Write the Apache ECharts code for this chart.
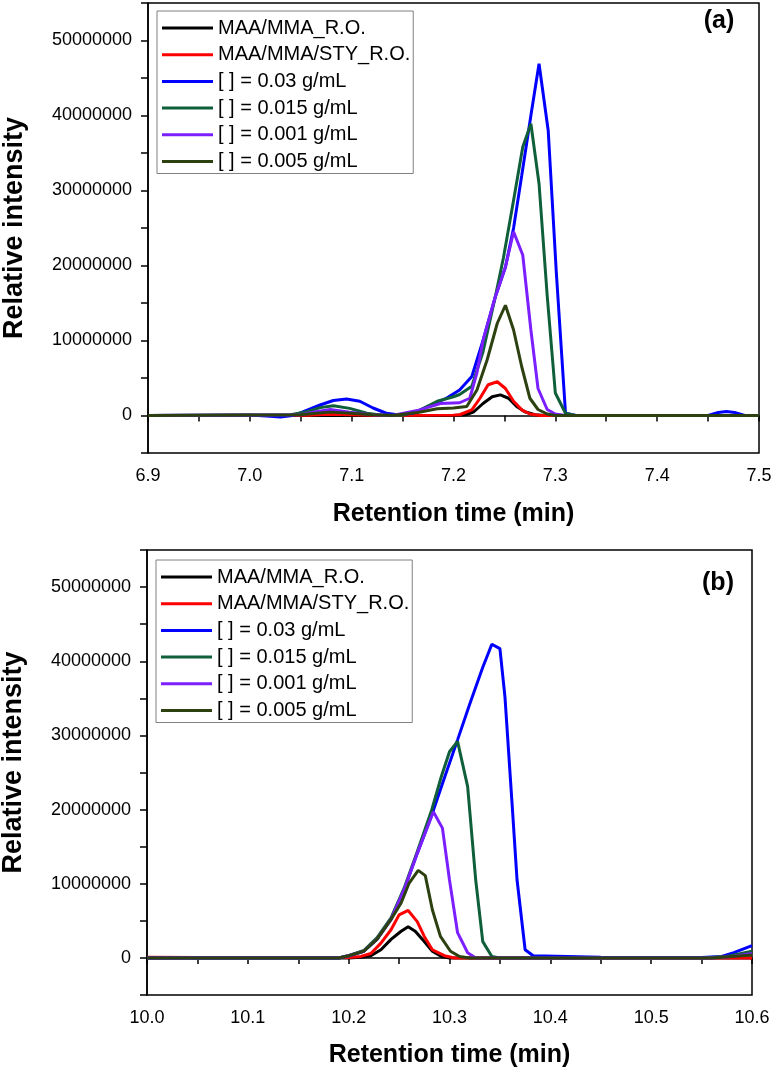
<!DOCTYPE html>
<html>
<head>
<meta charset="utf-8">
<script src="https://cdn.jsdelivr.net/npm/echarts@6/dist/echarts.min.js"></script>
<style>
  html, body { margin: 0; padding: 0; background: #fff; }
  #main { width: 774px; height: 1070px; }
</style>
</head>
<body>
<div id="main"></div>
<script>
// series names (legend order = draw order)
var names = ['MAA/MMA_R.O.', 'MAA/MMA/STY_R.O.', '[ ] = 0.03 g/mL', '[ ] = 0.015 g/mL', '[ ] = 0.001 g/mL', '[ ] = 0.005 g/mL'];
var colors = ['#000000', '#ff0000', '#0000ff', '#0f5f3a', '#7b1fff', '#2d4010'];

// panel (a): [time (min), intensity (millions)]
var aBlack = [[6.9,0],[7.2,0],[7.212,0.1],[7.22,0.5],[7.229,1.6],[7.238,2.5],[7.246,2.75],[7.254,2.3],[7.262,1.2],[7.27,0.5],[7.28,0.1],[7.29,0],[7.5,0]];
var aRed = [[6.9,0],[7.06,0.05],[7.08,0.15],[7.1,0.1],[7.13,0],[7.2,0.05],[7.206,0.1],[7.218,0.76],[7.226,2.3],[7.234,4.1],[7.243,4.5],[7.251,3.6],[7.259,1.9],[7.267,0.76],[7.275,0.2],[7.285,0],[7.5,0]];
var aBlue = [[6.9,0],[7.0,0.05],[7.02,-0.1],[7.03,-0.2],[7.04,-0.05],[7.049,0.3],[7.069,1.4],[7.082,2.0],[7.095,2.2],[7.108,1.9],[7.121,1.0],[7.134,0.3],[7.145,0.1],[7.16,0.3],[7.175,1.2],[7.193,2.3],[7.206,3.4],[7.218,5.2],[7.229,10],[7.241,15.8],[7.251,19.8],[7.259,25],[7.267,32],[7.276,40],[7.284,46.9],[7.293,38],[7.301,19],[7.31,0.3],[7.32,0],[7.45,0],[7.46,0.4],[7.468,0.53],[7.476,0.4],[7.486,0],[7.5,0]];
var aGreen = [[6.9,0],[7.04,0.1],[7.056,0.5],[7.069,1.05],[7.082,1.3],[7.098,0.95],[7.115,0.3],[7.13,0.05],[7.15,0.05],[7.165,0.6],[7.184,1.9],[7.2,2.5],[7.206,2.8],[7.218,3.9],[7.229,8.5],[7.241,15.8],[7.249,21],[7.259,28.7],[7.268,35.8],[7.276,38.9],[7.284,30.9],[7.292,16],[7.3,3],[7.31,0.3],[7.32,0],[7.5,0]];
var aPurple = [[6.9,0],[7.05,0.1],[7.065,0.5],[7.079,0.8],[7.098,0.45],[7.12,0.1],[7.14,0],[7.167,0.75],[7.187,1.6],[7.206,1.7],[7.216,2.3],[7.223,5.7],[7.229,10],[7.241,15.8],[7.251,19.8],[7.259,24.5],[7.268,21.4],[7.276,11.4],[7.283,3.6],[7.292,0.8],[7.3,0.2],[7.31,0],[7.5,0]];
var aOlive = [[6.9,0],[7.05,0.1],[7.065,0.3],[7.079,0.45],[7.1,0.3],[7.12,0.1],[7.14,0],[7.165,0.4],[7.184,0.9],[7.2,1.0],[7.213,1.2],[7.223,3.4],[7.233,7.4],[7.243,12.3],[7.251,14.7],[7.259,11.4],[7.267,6.5],[7.275,2.3],[7.283,0.8],[7.292,0.2],[7.3,0],[7.5,0]];

// panel (b)
var bBlack = [[10,0],[10.2,0],[10.212,0.1],[10.222,0.3],[10.232,1.1],[10.242,2.5],[10.252,3.6],[10.259,4.2],[10.266,3.6],[10.275,2.2],[10.283,0.9],[10.292,0.2],[10.3,0],[10.6,0]];
var bRed = [[10,0.1],[10.05,0.05],[10.2,0.05],[10.212,0.2],[10.222,0.6],[10.232,2.0],[10.242,3.8],[10.25,5.8],[10.259,6.4],[10.268,4.9],[10.275,2.9],[10.283,1.1],[10.295,0.3],[10.305,0],[10.6,0]];
var bBlue = [[10,0],[10.19,0],[10.2,0.3],[10.215,0.9],[10.228,2.5],[10.242,5.2],[10.255,9.2],[10.268,14.1],[10.282,19.1],[10.295,24.3],[10.308,29.4],[10.32,34.2],[10.333,39.2],[10.342,42.3],[10.35,41.7],[10.355,35.2],[10.362,20.9],[10.367,10.5],[10.375,1.1],[10.383,0.3],[10.45,0.1],[10.55,0.05],[10.57,0.2],[10.582,0.7],[10.6,1.65]];
var bGreen = [[10,0],[10.19,0],[10.2,0.3],[10.215,1.0],[10.228,2.7],[10.242,5.4],[10.255,9.4],[10.268,14.3],[10.282,19.8],[10.292,24.5],[10.3,27.8],[10.308,29.2],[10.318,23.1],[10.326,10.5],[10.333,2.2],[10.342,0.2],[10.35,0],[10.55,0],[10.575,0.2],[10.6,0.9]];
var bPurple = [[10,0],[10.19,0],[10.2,0.3],[10.215,0.9],[10.228,2.5],[10.242,5.2],[10.255,9.2],[10.268,14.1],[10.284,19.7],[10.293,17.5],[10.3,10.5],[10.308,3.4],[10.318,0.7],[10.326,0],[10.56,0],[10.58,0.2],[10.6,0.6]];
var bOlive = [[10,0],[10.19,0],[10.2,0.3],[10.215,0.9],[10.228,2.5],[10.242,5.2],[10.252,7.4],[10.26,10.1],[10.269,11.8],[10.276,11.1],[10.283,6.5],[10.291,2.9],[10.301,0.9],[10.31,0.2],[10.32,0],[10.56,0],[10.6,0.4]];

var aData = [aBlack, aRed, aBlue, aGreen, aPurple, aOlive];
var bData = [bBlack, bRed, bBlue, bGreen, bPurple, bOlive];

var font = 'Liberation Sans';

function xLabel(v) {
  var r = Math.round(v * 100);
  return r % 10 === 0 ? (r / 100).toFixed(1) : '';
}
function yLabel(v) {
  var r = Math.round(v);
  return r % 10 === 0 ? String(r * 1000000) : '';
}

function xAxis(idx, min, max, gap) {
  return {
    type: 'value', gridIndex: idx, min: min, max: max, interval: 0.05,
    name: 'Retention time (min)', nameLocation: 'middle', nameGap: gap,
    nameTextStyle: { fontFamily: font, fontSize: 25, fontWeight: 'bold', color: '#000' },
    axisLine: { show: true, lineStyle: { color: '#000', width: 1.5 } },
    axisTick: { show: true, length: 6, lineStyle: { color: '#000', width: 1.5 } },
    axisLabel: { formatter: xLabel, margin: 14, fontFamily: font, fontSize: 18, color: '#000' },
    splitLine: { show: false }
  };
}
function yAxis(idx, pad) {
  return {
    type: 'value', gridIndex: idx, min: -5, max: 55, interval: 5,
    name: 'Relative intensity', nameLocation: 'middle', nameGap: 120,
    nameTextStyle: { fontFamily: font, fontSize: 27, fontWeight: 'bold', color: '#000', padding: pad },
    axisLine: { show: true, lineStyle: { color: '#000', width: 1.5 } },
    axisTick: { show: true, length: 7, lineStyle: { color: '#000', width: 1.5 } },
    axisLabel: { formatter: yLabel, margin: 16, fontFamily: font, fontSize: 18, color: '#000' },
    splitLine: { show: false }
  };
}
function legend(left, top) {
  return {
    data: names, orient: 'vertical', left: left, top: top,
    padding: [7, 3, 2, 5], itemWidth: 51, itemHeight: 3, itemGap: 6.7, icon: 'rect',
    borderColor: '#808080', borderWidth: 1, backgroundColor: '#fff',
    textStyle: { fontFamily: font, fontSize: 20, lineHeight: 20, color: '#000' }
  };
}

var series = [];
[aData, bData].forEach(function (set, g) {
  set.forEach(function (d, i) {
    series.push({
      name: names[i], type: 'line', xAxisIndex: g, yAxisIndex: g, data: d,
      showSymbol: false, color: colors[i],
      lineStyle: { width: 3, color: colors[i] }
    });
  });
});

var chart = echarts.init(document.getElementById('main'));
chart.setOption({
  animation: false,
  backgroundColor: '#fff',
  grid: [
    { left: 148, top: 3, width: 611, height: 450, show: true, borderColor: '#000', borderWidth: 1.5, outerBoundsMode: 'none' },
    { left: 147, top: 550, width: 605, height: 445, show: true, borderColor: '#000', borderWidth: 1.5, outerBoundsMode: 'none' }
  ],
  xAxis: [xAxis(0, 6.9, 7.5, 48.5), xAxis(1, 10.0, 10.6, 47.5)],
  yAxis: [yAxis(0, [0, 0, 0, 0]), yAxis(1, [0, 0, 0, 20])],
  legend: [legend(157, 11), legend(156, 560)],
  graphic: [
    { type: 'text', style: { text: '(a)', x: 719, y: 21, textAlign: 'center', textVerticalAlign: 'middle', font: 'bold 25px Liberation Sans', fill: '#000' } },
    { type: 'text', style: { text: '(b)', x: 718, y: 583, textAlign: 'center', textVerticalAlign: 'middle', font: 'bold 25px Liberation Sans', fill: '#000' } }
  ],
  series: series
});
</script>
</body>
</html>
